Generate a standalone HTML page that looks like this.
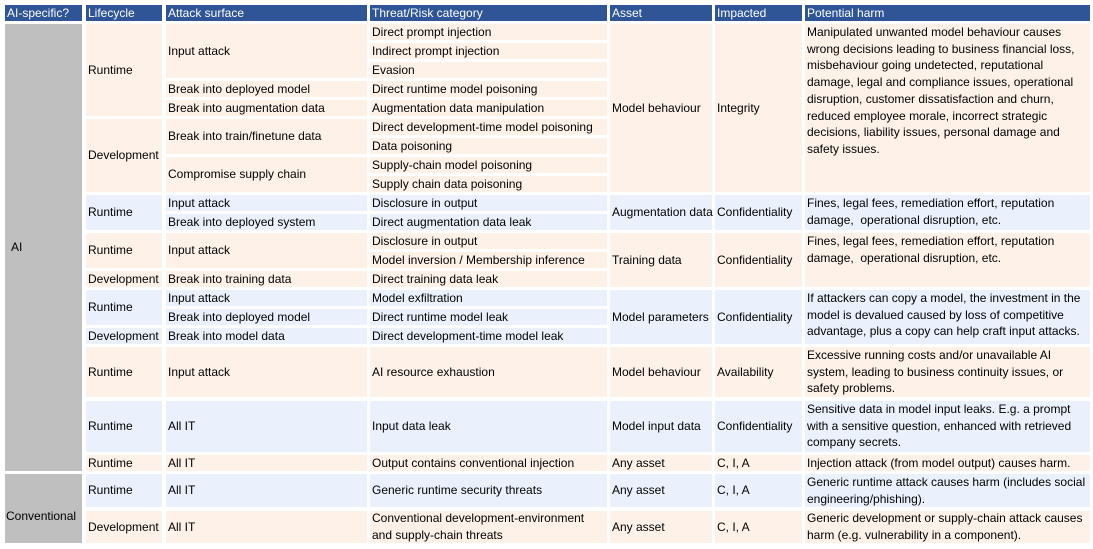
<!DOCTYPE html>
<html>
<head>
<meta charset="utf-8">
<style>
  html, body { margin:0; padding:0; background:#ffffff; }
  body { width:1093px; height:549px; position:relative; overflow:hidden;
         font-family:"Liberation Sans", Arial, sans-serif; font-size:12px; color:#000; }
  .c { position:absolute; display:flex; align-items:center; box-sizing:border-box;
       padding-left:2px; white-space:nowrap; line-height:16.7px; }
  .t { align-items:flex-start; }
  .h { background:#2F5597; color:#fff; }
  .O { background:#FDF1E8; }
  .B { background:#EAF1FC; }
  .G { background:#BFBFBF; }
</style>
</head>
<body>
<!-- Header -->
<div class="c h" style="left:5px;top:5px;width:77px;height:16px;">AI-specific?</div>
<div class="c h" style="left:86px;top:5px;width:76px;height:16px;">Lifecycle</div>
<div class="c h" style="left:166px;top:5px;width:201px;height:16px;">Attack surface</div>
<div class="c h" style="left:370px;top:5px;width:237px;height:16px;">Threat/Risk category</div>
<div class="c h" style="left:610px;top:5px;width:102px;height:16px;">Asset</div>
<div class="c h" style="left:715px;top:5px;width:87px;height:16px;">Impacted</div>
<div class="c h" style="left:805px;top:5px;width:285px;height:16px;">Potential harm</div>

<!-- AI-specific column -->
<div class="c G" style="left:5px;top:24px;width:77px;height:447px;padding-left:6px;">AI</div>
<div class="c G" style="left:5px;top:474px;width:77px;height:69px;padding-left:1px;padding-top:16px;">Conventional</div>

<!-- Lifecycle -->
<div class="c O" style="left:86px;top:24px;width:76px;height:92px;">Runtime</div>
<div class="c O" style="left:86px;top:119px;width:76px;height:73px;">Development</div>
<div class="c B" style="left:86px;top:195px;width:76px;height:35px;">Runtime</div>
<div class="c O" style="left:86px;top:233px;width:76px;height:35px;">Runtime</div>
<div class="c O" style="left:86px;top:271px;width:76px;height:16px;">Development</div>
<div class="c B" style="left:86px;top:290px;width:76px;height:35px;">Runtime</div>
<div class="c B" style="left:86px;top:328px;width:76px;height:16px;">Development</div>
<div class="c O" style="left:86px;top:347px;width:76px;height:50px;">Runtime</div>
<div class="c B" style="left:86px;top:401px;width:76px;height:51px;">Runtime</div>
<div class="c O" style="left:86px;top:455px;width:76px;height:16px;">Runtime</div>
<div class="c B" style="left:86px;top:474px;width:76px;height:33px;">Runtime</div>
<div class="c O" style="left:86px;top:511px;width:76px;height:32px;">Development</div>

<!-- Attack surface -->
<div class="c O" style="left:166px;top:24px;width:201px;height:54px;">Input attack</div>
<div class="c O" style="left:166px;top:81px;width:201px;height:16px;">Break into deployed model</div>
<div class="c O" style="left:166px;top:100px;width:201px;height:16px;">Break into augmentation data</div>
<div class="c O" style="left:166px;top:119px;width:201px;height:35px;">Break into train/finetune data</div>
<div class="c O" style="left:166px;top:157px;width:201px;height:35px;">Compromise supply chain</div>
<div class="c B" style="left:166px;top:195px;width:201px;height:16px;">Input attack</div>
<div class="c B" style="left:166px;top:214px;width:201px;height:16px;">Break into deployed system</div>
<div class="c O" style="left:166px;top:233px;width:201px;height:35px;">Input attack</div>
<div class="c O" style="left:166px;top:271px;width:201px;height:16px;">Break into training data</div>
<div class="c B" style="left:166px;top:290px;width:201px;height:16px;">Input attack</div>
<div class="c B" style="left:166px;top:309px;width:201px;height:16px;">Break into deployed model</div>
<div class="c B" style="left:166px;top:328px;width:201px;height:16px;">Break into model data</div>
<div class="c O" style="left:166px;top:347px;width:201px;height:50px;">Input attack</div>
<div class="c B" style="left:166px;top:401px;width:201px;height:51px;">All IT</div>
<div class="c O" style="left:166px;top:455px;width:201px;height:16px;">All IT</div>
<div class="c B" style="left:166px;top:474px;width:201px;height:33px;">All IT</div>
<div class="c O" style="left:166px;top:511px;width:201px;height:32px;">All IT</div>

<!-- Threat/Risk category -->
<div class="c O" style="left:370px;top:24px;width:237px;height:16px;">Direct prompt injection</div>
<div class="c O" style="left:370px;top:43px;width:237px;height:16px;">Indirect prompt injection</div>
<div class="c O" style="left:370px;top:62px;width:237px;height:16px;">Evasion</div>
<div class="c O" style="left:370px;top:81px;width:237px;height:16px;">Direct runtime model poisoning</div>
<div class="c O" style="left:370px;top:100px;width:237px;height:16px;">Augmentation data manipulation</div>
<div class="c O" style="left:370px;top:119px;width:237px;height:16px;">Direct development-time model poisoning</div>
<div class="c O" style="left:370px;top:138px;width:237px;height:16px;">Data poisoning</div>
<div class="c O" style="left:370px;top:157px;width:237px;height:16px;">Supply-chain model poisoning</div>
<div class="c O" style="left:370px;top:176px;width:237px;height:16px;">Supply chain data poisoning</div>
<div class="c B" style="left:370px;top:195px;width:237px;height:16px;">Disclosure in output</div>
<div class="c B" style="left:370px;top:214px;width:237px;height:16px;">Direct augmentation data leak</div>
<div class="c O" style="left:370px;top:233px;width:237px;height:16px;">Disclosure in output</div>
<div class="c O" style="left:370px;top:252px;width:237px;height:16px;">Model inversion / Membership inference</div>
<div class="c O" style="left:370px;top:271px;width:237px;height:16px;">Direct training data leak</div>
<div class="c B" style="left:370px;top:290px;width:237px;height:16px;">Model exfiltration</div>
<div class="c B" style="left:370px;top:309px;width:237px;height:16px;">Direct runtime model leak</div>
<div class="c B" style="left:370px;top:328px;width:237px;height:16px;">Direct development-time model leak</div>
<div class="c O" style="left:370px;top:347px;width:237px;height:50px;">AI resource exhaustion</div>
<div class="c B" style="left:370px;top:401px;width:237px;height:51px;">Input data leak</div>
<div class="c O" style="left:370px;top:455px;width:237px;height:16px;">Output contains conventional injection</div>
<div class="c B" style="left:370px;top:474px;width:237px;height:33px;">Generic runtime security threats</div>
<div class="c O" style="left:370px;top:511px;width:237px;height:32px;">Conventional development-environment<br>and supply-chain threats</div>

<!-- Asset -->
<div class="c O" style="left:610px;top:24px;width:102px;height:168px;">Model behaviour</div>
<div class="c B" style="left:610px;top:195px;width:102px;height:35px;">Augmentation data</div>
<div class="c O" style="left:610px;top:233px;width:102px;height:54px;">Training data</div>
<div class="c B" style="left:610px;top:290px;width:102px;height:54px;">Model parameters</div>
<div class="c O" style="left:610px;top:347px;width:102px;height:50px;">Model behaviour</div>
<div class="c B" style="left:610px;top:401px;width:102px;height:51px;">Model input data</div>
<div class="c O" style="left:610px;top:455px;width:102px;height:16px;">Any asset</div>
<div class="c B" style="left:610px;top:474px;width:102px;height:33px;">Any asset</div>
<div class="c O" style="left:610px;top:511px;width:102px;height:32px;">Any asset</div>

<!-- Impacted -->
<div class="c O" style="left:715px;top:24px;width:87px;height:168px;">Integrity</div>
<div class="c B" style="left:715px;top:195px;width:87px;height:35px;">Confidentiality</div>
<div class="c O" style="left:715px;top:233px;width:87px;height:54px;">Confidentiality</div>
<div class="c B" style="left:715px;top:290px;width:87px;height:54px;">Confidentiality</div>
<div class="c O" style="left:715px;top:347px;width:87px;height:50px;">Availability</div>
<div class="c B" style="left:715px;top:401px;width:87px;height:51px;">Confidentiality</div>
<div class="c O" style="left:715px;top:455px;width:87px;height:16px;">C, I, A</div>
<div class="c B" style="left:715px;top:474px;width:87px;height:33px;">C, I, A</div>
<div class="c O" style="left:715px;top:511px;width:87px;height:32px;">C, I, A</div>

<!-- Potential harm -->
<div class="c O t" style="left:805px;top:24px;width:285px;height:168px;">Manipulated unwanted model behaviour causes<br>wrong decisions leading to business financial loss,<br>misbehaviour going undetected, reputational<br>damage, legal and compliance issues, operational<br>disruption, customer dissatisfaction and churn,<br>reduced employee morale, incorrect strategic<br>decisions, liability issues, personal damage and<br>safety issues.</div>
<div class="c B t" style="left:805px;top:195px;width:285px;height:35px;">Fines, legal fees, remediation effort, reputation<br>damage,&nbsp; operational disruption, etc.</div>
<div class="c O t" style="left:805px;top:233px;width:285px;height:54px;">Fines, legal fees, remediation effort, reputation<br>damage,&nbsp; operational disruption, etc.</div>
<div class="c B t" style="left:805px;top:290px;width:285px;height:54px;">If attackers can copy a model, the investment in the<br>model is devalued caused by loss of competitive<br>advantage, plus a copy can help craft input attacks.</div>
<div class="c O t" style="left:805px;top:347px;width:285px;height:50px;">Excessive running costs and/or unavailable AI<br>system, leading to business continuity issues, or<br>safety problems.</div>
<div class="c B t" style="left:805px;top:401px;width:285px;height:51px;">Sensitive data in model input leaks. E.g. a prompt<br>with a sensitive question, enhanced with retrieved<br>company secrets.</div>
<div class="c O" style="left:805px;top:455px;width:285px;height:16px;">Injection attack (from model output) causes harm.</div>
<div class="c B" style="left:805px;top:474px;width:285px;height:33px;">Generic runtime attack causes harm (includes social<br>engineering/phishing).</div>
<div class="c O" style="left:805px;top:511px;width:285px;height:32px;">Generic development or supply-chain attack causes<br>harm (e.g. vulnerability in a component).</div>
</body>
</html>
